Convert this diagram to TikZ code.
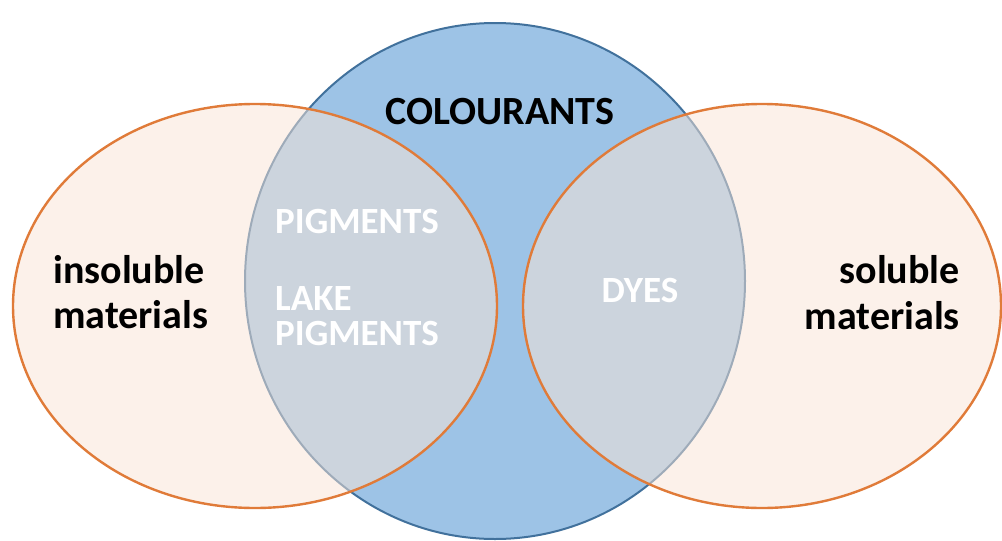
\documentclass[tikz,border=0pt]{standalone}
\usepackage{fontspec}
\setmainfont{Carlito}
\definecolor{bluefill}{HTML}{9DC3E6}
\definecolor{blueline}{HTML}{41719C}
\definecolor{orangeline}{HTML}{E07B39}
\definecolor{peach}{HTML}{FBE5D6}
\begin{document}
\begin{tikzpicture}[x=1pt,y=-1pt,
  darklbl/.style={font=\fontsize{40}{46}\selectfont\bfseries, inner sep=0pt, text=black},
  whitelbl/.style={font=\fontsize{37}{44}\selectfont\bfseries, inner sep=0pt, text=white},
  setorange/.style={draw=orangeline, line width=2.4pt, fill=peach, fill opacity=0.5},
  setblue/.style={draw=blueline, line width=2pt, fill=bluefill}]
\useasboundingbox (0,0) rectangle (1002,541);
\fill[white] (0,0) rectangle (1002,541);
% colourants circle
\draw[setblue] (495,281) ellipse [x radius=250, y radius=258];
% insoluble and soluble sets
\draw[setorange] (255,306) ellipse [x radius=242, y radius=202];
\draw[setorange] (762,306) ellipse [x radius=239, y radius=202];
% labels
\node[darklbl, anchor=base] (colourants) at (500,124) {COLOURANTS};
\node[darklbl, anchor=base west] (insoluble) at (53,283) {insoluble};
\node[darklbl, anchor=base west] (materialsL) at (53,328) {materials};
\node[darklbl, anchor=base east] (soluble) at (960,283) {soluble};
\node[darklbl, anchor=base east] (materialsR) at (960,329) {materials};
\node[whitelbl, anchor=base west] (pigments) at (275,233) {PIGMENTS};
\node[whitelbl, anchor=base west] (lake) at (275,310) {LAKE};
\node[whitelbl, anchor=base west] (lakepigments) at (275,345) {PIGMENTS};
\node[whitelbl, anchor=base] (dyes) at (640,302) {DYES};
\end{tikzpicture}
\end{document}
